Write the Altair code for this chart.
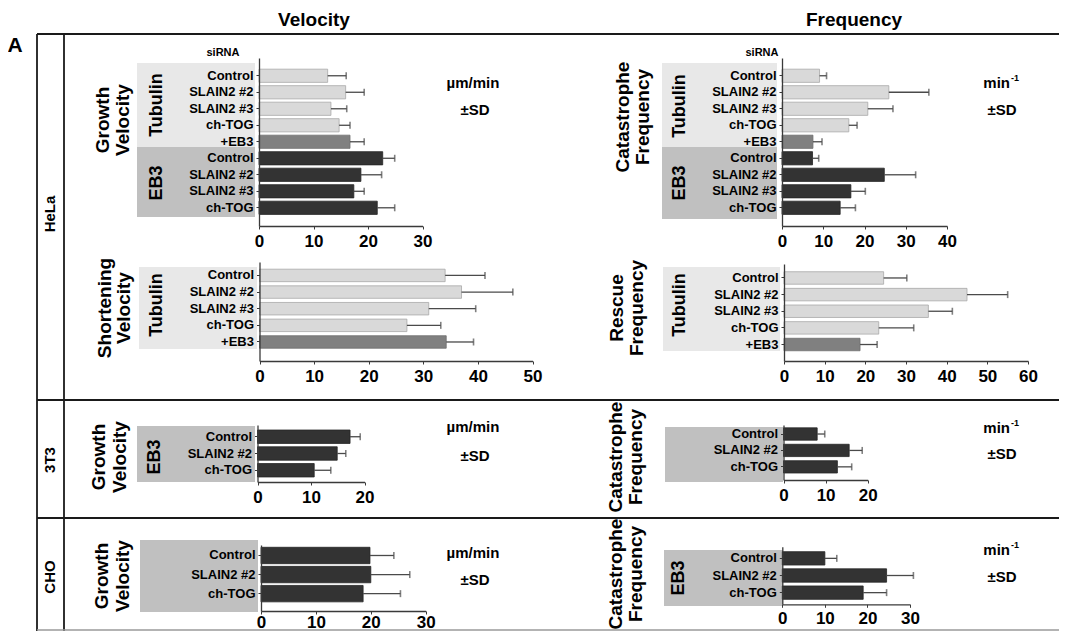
import altair as alt
import pandas as pd

# ---------------- data ----------------
hela_growth_labels = ["Control", "SLAIN2 #2", "SLAIN2 #3", "ch-TOG", "+EB3",
                      "Control", "SLAIN2 #2", "SLAIN2 #3", "ch-TOG"]
hela_growth_groups = ["Tubulin", "Tubulin", "Tubulin", "Tubulin", "+EB3",
                      "EB3", "EB3", "EB3", "EB3"]
hela_growth_vel = [12.6, 15.9, 13.2, 14.7, 16.7, 22.7, 18.7, 17.4, 21.7]
hela_growth_vel_sd = [3.4, 3.4, 2.9, 2.0, 2.6, 2.2, 3.8, 1.9, 3.2]
hela_cat_freq = [9.1, 25.9, 20.8, 16.2, 7.5, 7.4, 24.8, 16.7, 14.1]
hela_cat_freq_sd = [1.7, 9.7, 6.1, 2.0, 2.2, 1.5, 7.6, 3.5, 3.7]

hela_short_labels = ["Control", "SLAIN2 #2", "SLAIN2 #3", "ch-TOG", "+EB3"]
hela_short_groups = ["Tubulin", "Tubulin", "Tubulin", "Tubulin", "+EB3"]
hela_short_vel = [34.0, 37.0, 31.0, 27.0, 34.2]
hela_short_vel_sd = [7.3, 9.4, 8.6, 6.2, 5.0]
hela_rescue_freq = [24.5, 45.0, 35.5, 23.3, 18.7]
hela_rescue_freq_sd = [5.7, 10.0, 5.9, 8.6, 4.2]

small_labels = ["Control", "SLAIN2 #2", "ch-TOG"]
small_groups = ["EB3", "EB3", "EB3"]
t3_growth_vel = [17.3, 14.9, 10.6]
t3_growth_vel_sd = [1.9, 1.6, 3.1]
t3_cat_freq = [8.0, 15.6, 12.8]
t3_cat_freq_sd = [1.8, 3.1, 3.4]
cho_growth_vel = [19.85, 20.0, 18.6]
cho_growth_vel_sd = [4.35, 7.1, 6.8]
cho_cat_freq = [10.0, 24.5, 19.0]
cho_cat_freq_sd = [2.8, 6.3, 5.5]

ticks_20 = [0, 10, 20]
ticks_30 = [0, 10, 20, 30]
ticks_40 = [0, 10, 20, 30, 40]
ticks_50 = [0, 10, 20, 30, 40, 50]
ticks_60 = [0, 10, 20, 30, 40, 50, 60]

# ---------------- layout ----------------
W, H = 1051, 623
M = 8
FONT = "Liberation Sans"
AX = "#3a3a3a"


def px(v):
    return v - M


group_scale = alt.Scale(domain=["Tubulin", "+EB3", "EB3"],
                        range=["#d9d9d9", "#808080", "#333333"])
stroke_scale = alt.Scale(domain=["Tubulin", "+EB3", "EB3"],
                         range=["#a8a8a8", "#6e6e6e", "#262626"])


def panel(labels, groups, means, sds, xmax, ticks, xr, yr, pi, po, align,
          xaxis_y, yaxis_x, cap=7, lab_pad=4):
    keys = [f"{i}|{lab}" for i, lab in enumerate(labels)]
    df = pd.DataFrame({"key": keys, "group": groups, "mean": means, "sd": sds})
    df["hi"] = df["mean"] + df["sd"]
    xs = alt.Scale(domain=[0, xmax], range=[px(xr[0]), px(xr[1])], nice=False, zero=True)
    ys = alt.Scale(domain=keys, range=[px(yr[0]), px(yr[1])],
                   paddingInner=pi, paddingOuter=po, align=align)
    xaxis = alt.Axis(orient="bottom", offset=px(xaxis_y) - H, values=ticks, title=None,
                     grid=False, labelFlush=False, labelOverlap=False, tickSize=3,
                     labelFont=FONT, labelFontWeight="bold", labelFontSize=17,
                     labelColor="black", labelPadding=lab_pad, domainColor=AX, tickColor=AX,
                     domainWidth=1.3, tickWidth=1, zindex=1)
    yaxis = alt.Axis(orient="left", offset=-px(yaxis_x), title=None, grid=False,
                     labelExpr="split(datum.value, '|')[1]", tickSize=3,
                     labelFont=FONT, labelFontWeight="bold", labelFontSize=13,
                     labelColor="black", labelPadding=3, labelLimit=200,
                     domainColor=AX, tickColor=AX, domainWidth=1.3, tickWidth=1, zindex=1)
    xenc = dict(scale=xs, axis=xaxis)
    yenc = alt.Y("key:N", scale=ys, sort=keys, axis=yaxis)
    base = alt.Chart(df)
    bars = base.mark_bar(strokeWidth=0.8).encode(
        x=alt.X("mean:Q", **xenc),
        y=yenc,
        color=alt.Color("group:N", scale=group_scale, legend=None),
        stroke=alt.Stroke("group:N", scale=stroke_scale, legend=None),
    )
    err = base.mark_rule(color="#4a4a4a", strokeWidth=1.3).encode(
        x=alt.X("mean:Q", **xenc),
        x2="hi:Q",
        y=yenc,
    )
    caps = base.mark_tick(color="#4a4a4a", thickness=1.6, size=cap).encode(
        x=alt.X("hi:Q", **xenc),
        y=yenc,
    )
    return alt.layer(bars, err, caps)


one = alt.Data(values=[{"k": 0}])


def txt(s, x, y, size, angle=0, align="center", baseline="middle", weight="bold"):
    return alt.Chart(one).mark_text(
        text=s, font=FONT, fontSize=size, fontWeight=weight, angle=angle,
        align=align, baseline=baseline, color="black"
    ).encode(x=alt.value(px(x)), y=alt.value(px(y)))


def box(x1, x2, y1, y2, color):
    return alt.Chart(one).mark_rect(color=color).encode(
        x=alt.value(px(x1)), x2=alt.value(px(x2)),
        y=alt.value(px(y1)), y2=alt.value(px(y2)))


def line(x1, x2, y1, y2, color="#1a1a1a", w=1.8):
    return alt.Chart(one).mark_rule(color=color, strokeWidth=w).encode(
        x=alt.value(px(x1)), x2=alt.value(px(x2)),
        y=alt.value(px(y1)), y2=alt.value(px(y2)))


LIGHT = "#e8e8e8"
DARK = "#c0c0c0"

layers = [
    # background boxes
    box(137, 255, 63, 147, LIGHT), box(137, 255, 147, 217, DARK),
    box(662, 777, 63, 147, LIGHT), box(662, 777, 147, 219, DARK),
    box(139, 257, 267, 349, LIGHT), box(663, 780, 267, 351, LIGHT),
    box(137, 255, 426, 482, DARK), box(140, 258, 540, 612, DARK),
    box(665, 783, 427, 482, DARK), box(664, 783, 550, 606, DARK),
]

layers += [
    panel(hela_growth_labels, hela_growth_groups, hela_growth_vel, hela_growth_vel_sd,
          30, ticks_30, (259, 422.5), (58, 226), 0.2, 0.69, 0.49, 226, 259),
    panel(hela_growth_labels, hela_growth_groups, hela_cat_freq, hela_cat_freq_sd,
          40, ticks_40, (782, 947), (58, 226), 0.2, 0.69, 0.49, 226, 782),
    panel(hela_short_labels, hela_short_groups, hela_short_vel, hela_short_vel_sd,
          50, ticks_50, (259.5, 532.5), (262, 361), 0.25, 0.6, 0.36, 361, 259.5),
    panel(hela_short_labels, hela_short_groups, hela_rescue_freq, hela_rescue_freq_sd,
          60, ticks_60, (784, 1028), (264, 361), 0.25, 0.54, 0.43, 361, 784),
    panel(small_labels, small_groups, t3_growth_vel, t3_growth_vel_sd,
          20, ticks_20, (257.5, 364.5), (425, 482), 0.2, 0.3, 0.5, 482, 257.5),
    panel(small_labels, small_groups, cho_growth_vel, cho_growth_vel_sd,
          30, ticks_30, (261, 425.7), (545, 611), 0.14, 0.3, 0.2, 611, 261, lab_pad=0),
    panel(small_labels, small_groups, t3_cat_freq, t3_cat_freq_sd,
          20, ticks_20, (783.5, 867.7), (425, 480), 0.25, 0.3, 0.29, 480, 783.5),
    panel(small_labels, small_groups, cho_cat_freq, cho_cat_freq_sd,
          30, ticks_30, (782.3, 910), (546.7, 604.3), 0.22, 0.29, 0.5, 604.3, 782.3,
          lab_pad=3),
]

TS = 19  # side title size
GS = 18  # group label size
layers += [
    txt("Velocity", 314, 20, 19), txt("Frequency", 854, 20, 19),
    txt("A", 15, 46, 21),
    txt("HeLa", 50, 214, 15, angle=270), txt("3T3", 50, 460, 15, angle=270),
    txt("CHO", 50, 577, 15, angle=270),
    txt("siRNA", 223, 53, 11), txt("siRNA", 762, 53, 11),
    # HeLa growth velocity
    txt("Growth", 103, 120, TS, angle=270), txt("Velocity", 123, 120, TS, angle=270),
    txt("Tubulin", 157, 105, GS, angle=270), txt("EB3", 157, 183, GS, angle=270),
    # HeLa catastrophe
    txt("Catastrophe", 623, 117, TS, angle=270), txt("Frequency", 643, 117, TS, angle=270),
    txt("Tubulin", 680, 106, GS, angle=270), txt("EB3", 680, 183, GS, angle=270),
    # shortening
    txt("Shortening", 105, 308, TS, angle=270), txt("Velocity", 124, 308, TS, angle=270),
    txt("Tubulin", 157, 305, GS, angle=270),
    # rescue
    txt("Rescue", 617, 308, TS, angle=270), txt("Frequency", 637, 308, TS, angle=270),
    txt("Tubulin", 680, 305, GS, angle=270),
    # 3T3
    txt("Growth", 99, 457, TS, angle=270), txt("Velocity", 120, 457, TS, angle=270),
    txt("EB3", 155, 457, GS, angle=270),
    txt("Catastrophe", 616, 457, TS, angle=270), txt("Frequency", 636, 457, TS, angle=270),
    # CHO
    txt("Growth", 102, 576, TS, angle=270), txt("Velocity", 123, 576, TS, angle=270),
    txt("Catastrophe", 616, 574, TS, angle=270), txt("Frequency", 636, 574, TS, angle=270),
    txt("EB3", 679, 578, GS, angle=270),
]

# units
for yy1, yy2 in [(83, 110), (427, 456), (553, 580)]:
    layers.append(txt("\u00b5m/min", 473, yy1, 15))
    layers.append(txt("\u00b1SD", 475, yy2, 15))
for yy1, yy2 in [(83, 110), (428, 454), (550, 577)]:
    layers.append(txt("min", 1010, yy1, 15, align="right"))
    layers.append(txt("-1", 1011, yy1 - 5, 9, align="left"))
    layers.append(txt("\u00b1SD", 1002, yy2, 15))

# table lines
layers += [
    line(37, 1067, 34, 34), line(37, 37, 34, 631), line(64, 64, 34, 631),
    line(37, 1067, 400, 400), line(37, 1067, 518, 518),
    line(37, 1067, 630, 630, color="#9a9a9a", w=1.5),
]

chart = alt.layer(*layers).resolve_scale(
    x="independent", y="independent"
).resolve_axis(
    x="independent", y="independent"
).properties(
    width=W, height=H, padding=0, autosize="none"
).configure_view(stroke=None)

chart.save("out.html", embed_options={"renderer": "svg", "actions": False})
